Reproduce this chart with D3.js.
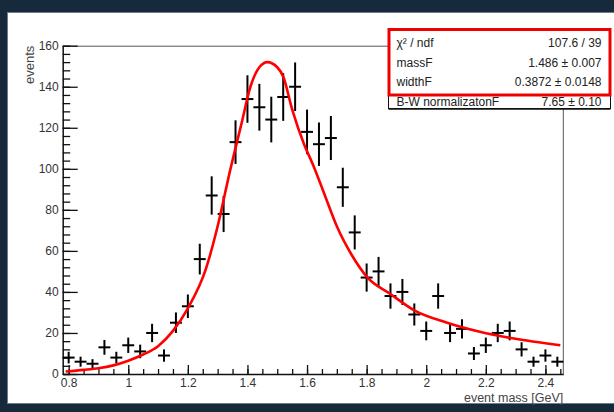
<!DOCTYPE html>
<html>
<head>
<meta charset="utf-8">
<script src="https://cdn.jsdelivr.net/npm/d3@7/dist/d3.min.js"></script>
<style>
    body { margin: 0; background: #ffffff; }
    svg text { font-family: "Liberation Sans", Arial, Helvetica, sans-serif; }
</style>
</head>
<body>
<div id="chart"></div>
<script>
// ==========================================
// Breit-Wigner fit of the event mass spectrum
// ==========================================

// 1. DATA
// bin centres (GeV), 0.04 wide bins, and the counts
const binCenters = [0.80, 0.84, 0.88, 0.92, 0.96, 1.00, 1.04, 1.08, 1.12, 1.16, 1.20, 1.24, 1.28, 1.32,
                    1.36, 1.40, 1.44, 1.48, 1.52, 1.56, 1.60, 1.64, 1.68, 1.72, 1.76, 1.80, 1.84, 1.88,
                    1.92, 1.96, 2.00, 2.04, 2.08, 2.12, 2.16, 2.20, 2.24, 2.28, 2.32, 2.36, 2.40, 2.44];
const counts = [8, 6, 5, 13, 8, 14, 11, 20, 9, 25, 33, 56, 87, 78,
                113, 134, 130, 124, 135, 140, 118, 112, 115, 91, 69, 47, 50, 38,
                40, 29, 21, 38, 20, 22, 10, 14, 20, 21, 12, 6, 9, 6];
const binWidth = 0.04;

// points
const fitMass = [0.79, 0.85, 0.90, 0.95, 1.00, 1.05, 1.10, 1.15, 1.20, 1.26, 1.30, 1.34, 1.38, 1.41,
                 1.44, 1.467, 1.50, 1.52, 1.55, 1.59, 1.62, 1.66, 1.70, 1.75, 1.80, 1.88, 1.96, 2.07,
                 2.18, 2.29, 2.45];
const fitValue = [1.2, 2.0, 2.8, 4.2, 6.5, 9.5, 13.5, 21, 32, 51, 72, 98, 122, 140,
                  149.5, 152, 149.5, 145, 129, 112, 102, 87, 72, 58, 47.5, 39, 31, 25,
                  20.6, 17.4, 14];

// tick labels
const xTickValues = [0.8, 1, 1.2, 1.4, 1.6, 1.8, 2, 2.2, 2.4];
const yTickValues = [0, 20, 40, 60, 80, 100, 120, 140, 160];

// stats box
const statLabels = ["\u03c7\u00b2 / ndf", "massF", "widthF", "B-W normalizatonF"];
const statValues = ["107.6 / 39", "1.486 \u00b1 0.007", "0.3872 \u00b1 0.0148", "7.65 \u00b1 0.10"];

// 2. CANVAS SETUP
const W = 614, H = 412;
const margin = { top: 45.7, right: 50.7, bottom: 38, left: 62.7 };
const width = W - margin.left - margin.right;
const height = H - margin.top - margin.bottom;

const root = d3.select("#chart")
    .append("svg")
    .attr("width", W)
    .attr("height", H);

// dark window frame around the white pad
root.append("rect")
    .attr("width", W).attr("height", H)
    .attr("fill", "#172a3b");
root.append("rect")
    .attr("x", 7).attr("y", 12)
    .attr("width", W - 7).attr("height", 392)
    .attr("fill", "#6d7d8a");
root.append("rect")
    .attr("x", 8).attr("y", 13)
    .attr("width", W - 8).attr("height", 390)
    .attr("fill", "#ffffff");

const svg = root.append("g")
    .attr("transform", "translate(" + margin.left + "," + margin.top + ")");

// 3. SCALES
const x = d3.scaleLinear()
    .domain([0.78, 2.46])
    .range([0, width]);

const y = d3.scaleLinear()
    .domain([0, 160])
    .range([height, 0]);

// 4. FRAME (top and right sides, grey)
svg.append("path")
    .attr("d", "M0,0.5H" + width + "V" + height)
    .attr("fill", "none")
    .attr("stroke", "#555")
    .attr("stroke-width", 1);

// 5. AXES - ROOT style ticks pointing inwards
const xMinor = d3.range(16, 50).map(function(i){ return i * 0.05; });
svg.append("g")
    .attr("transform", "translate(0," + height + ")")
    .call(d3.axisBottom(x).tickValues(xMinor).tickSize(-5).tickFormat(""))
    .call(function(g){ g.select(".domain").remove(); });

const xAxis = svg.append("g")
    .attr("transform", "translate(0," + height + ")")
    .call(d3.axisBottom(x)
        .tickValues(xTickValues)
        .tickFormat(d3.format("~g"))
        .tickSize(-9)
        .tickSizeOuter(0)
        .tickPadding(4));

const yMinor = d3.range(0, 161, 4);
svg.append("g")
    .call(d3.axisLeft(y).tickValues(yMinor).tickSize(-7.5).tickFormat(""))
    .call(function(g){ g.select(".domain").remove(); });

const yAxis = svg.append("g")
    .call(d3.axisLeft(y)
        .tickValues(yTickValues)
        .tickSize(-15)
        .tickSizeOuter(0)
        .tickPadding(4));

svg.selectAll(".tick line").attr("stroke", "#111").attr("stroke-width", 1.3);
[xAxis, yAxis].forEach(function(a){
    a.select(".domain").attr("stroke", "#111").attr("stroke-width", 1.5);
    a.selectAll("text")
        .style("font-size", "12px")
        .attr("fill", "#333");
});

// axis titles, right/top aligned like ROOT
svg.append("text")
    .attr("text-anchor", "end")
    .attr("x", width)
    .attr("y", height + 28.5)
    .style("font-size", "12.5px")
    .attr("fill", "#444")
    .text("event mass [GeV]");

svg.append("text")
    .attr("text-anchor", "end")
    .attr("transform", "rotate(-90)")
    .attr("x", 0)
    .attr("y", -29)
    .style("font-size", "13px")
    .attr("fill", "#444")
    .text("events");

// 6. DATA POINTS WITH ERROR BARS (sqrt N)
const points = binCenters.map(function(c, i){
    return { mass: c, n: counts[i], err: Math.sqrt(counts[i]) };
});

const bars = svg.append("g")
    .attr("stroke", "#000")
    .attr("stroke-width", 2);

bars.selectAll("line.vbar")
    .data(points)
    .join("line")
    .attr("class", "vbar")
    .attr("x1", function(d){ return x(d.mass); })
    .attr("x2", function(d){ return x(d.mass); })
    .attr("y1", function(d){ return y(Math.max(0, d.n - d.err)); })
    .attr("y2", function(d){ return y(d.n + d.err); });

bars.selectAll("line.hbar")
    .data(points)
    .join("line")
    .attr("class", "hbar")
    .attr("x1", function(d){ return x(d.mass - binWidth / 2); })
    .attr("x2", function(d){ return x(d.mass + binWidth / 2); })
    .attr("y1", function(d){ return y(d.n); })
    .attr("y2", function(d){ return y(d.n); });

// 7. FIT CURVE
const fitLine = d3.line()
    .x(function(d){ return x(d[0]); })
    .y(function(d){ return y(d[1]); })
    .curve(d3.curveMonotoneX);

svg.append("path")
    .datum(fitMass.map(function(m, i){ return [m, fitValue[i]]; }))
    .attr("d", fitLine)
    .attr("fill", "none")
    .attr("stroke", "#ff0000")
    .attr("stroke-width", 2.6);

// 8. STATS BOX
const boxX = 388.5, boxY = 29.5, boxW = 222, boxH = 79;
const stats = root.append("g");

stats.append("rect")
    .attr("x", boxX).attr("y", boxY)
    .attr("width", boxW).attr("height", boxH)
    .attr("fill", "#fff")
    .attr("stroke", "#111")
    .attr("stroke-width", 1);

// little shadow under the box
stats.append("line")
    .attr("x1", boxX).attr("x2", boxX + boxW)
    .attr("y1", boxY + boxH + 0.5).attr("y2", boxY + boxH + 0.5)
    .attr("stroke", "#111").attr("stroke-width", 1.5);

statLabels.forEach(function(label, i){
    // baselines of the four rows
    const base = boxY + 17.5 + i * 19.5;
    stats.append("text")
        .attr("x", boxX + 8)
        .attr("y", base)
        .style("font-size", "12px")
        .attr("fill", "#222")
        .text(label);
    stats.append("text")
        .attr("x", boxX + boxW - 9)
        .attr("y", base)
        .attr("text-anchor", "end")
        .style("font-size", "12px")
        .attr("fill", "#222")
        .text(statValues[i]);
});

// red highlight around the first three rows
stats.append("rect")
    .attr("x", boxX + 0.5).attr("y", boxY)
    .attr("width", boxW - 1).attr("height", 65.5)
    .attr("fill", "none")
    .attr("stroke", "#ee0000")
    .attr("stroke-width", 3);
</script>
</body>
</html>
